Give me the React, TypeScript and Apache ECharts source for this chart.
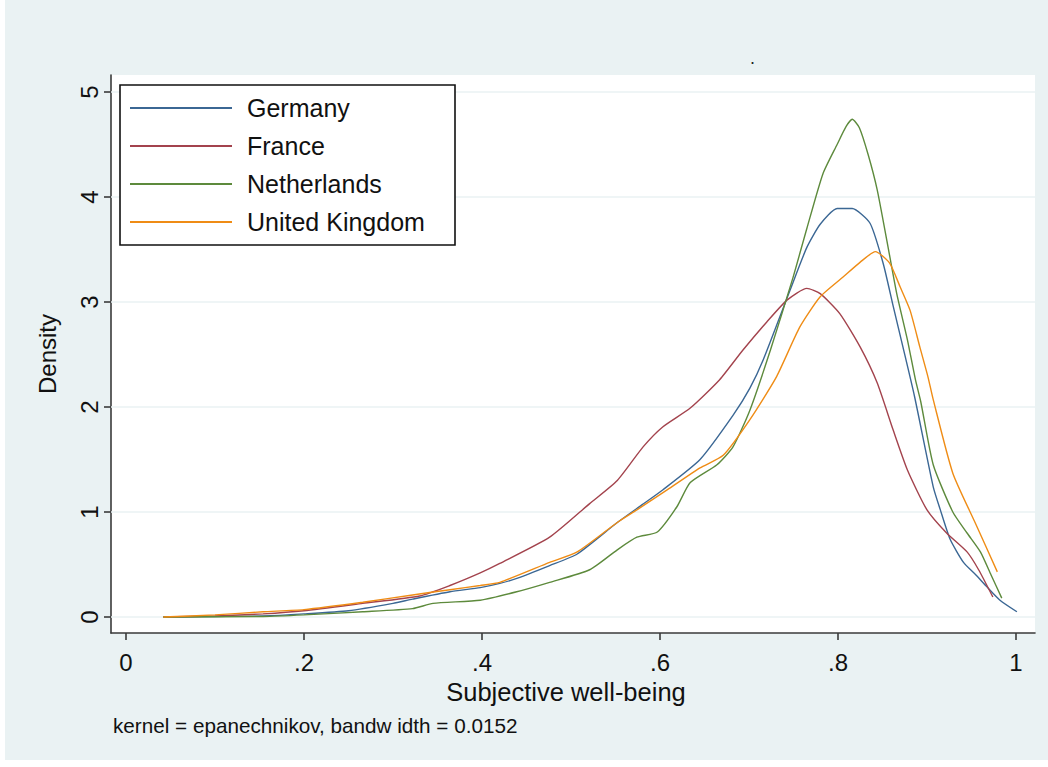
import React, { useEffect, useRef } from "react";
import * as echarts from "echarts";

// Kernel density estimates of subjective well-being, by country: [score, density]
const germany: [number, number][] = [
  [0.042, 0.0], [0.1, 0.005], [0.154, 0.01], [0.2, 0.03], [0.25, 0.06], [0.3, 0.13],
  [0.322, 0.17], [0.364, 0.24], [0.398, 0.28], [0.42, 0.32], [0.44, 0.37], [0.476, 0.49],
  [0.507, 0.6], [0.552, 0.9], [0.58, 1.07], [0.603, 1.21], [0.645, 1.5], [0.682, 1.92],
  [0.701, 2.18], [0.716, 2.45], [0.746, 3.11], [0.765, 3.52], [0.78, 3.74], [0.799, 3.89],
  [0.816, 3.89], [0.836, 3.75], [0.851, 3.36], [0.862, 2.96], [0.873, 2.57], [0.886, 2.1],
  [0.907, 1.24], [0.915, 1.02], [0.926, 0.74], [0.941, 0.52], [0.955, 0.4], [0.967, 0.29],
  [0.982, 0.16], [1.001, 0.05],
];

const france: [number, number][] = [
  [0.042, 0.0], [0.1, 0.01], [0.154, 0.03], [0.2, 0.06], [0.266, 0.13], [0.33, 0.2],
  [0.364, 0.3], [0.398, 0.42], [0.42, 0.51], [0.476, 0.76], [0.521, 1.08], [0.552, 1.3],
  [0.581, 1.62], [0.603, 1.81], [0.634, 1.99], [0.667, 2.26], [0.693, 2.54], [0.72, 2.81],
  [0.743, 3.02], [0.765, 3.13], [0.78, 3.08], [0.802, 2.89], [0.825, 2.57], [0.844, 2.23],
  [0.862, 1.78], [0.878, 1.4], [0.9, 1.02], [0.922, 0.8], [0.945, 0.62], [0.958, 0.45],
  [0.974, 0.19],
];

const netherlands: [number, number][] = [
  [0.042, 0.0], [0.154, 0.005], [0.2, 0.02], [0.266, 0.05], [0.322, 0.08], [0.345, 0.13],
  [0.398, 0.16], [0.439, 0.24], [0.476, 0.33], [0.521, 0.45], [0.552, 0.64], [0.574, 0.76],
  [0.597, 0.81], [0.619, 1.05], [0.634, 1.28], [0.664, 1.45], [0.682, 1.62], [0.701, 1.97],
  [0.724, 2.54], [0.749, 3.22], [0.765, 3.7], [0.783, 4.22], [0.799, 4.5], [0.809, 4.67],
  [0.816, 4.74], [0.824, 4.66], [0.834, 4.4], [0.844, 4.07], [0.855, 3.58], [0.866, 3.08],
  [0.878, 2.64], [0.887, 2.26], [0.893, 2.05], [0.907, 1.45], [0.929, 1.0], [0.945, 0.8],
  [0.96, 0.62], [0.972, 0.4], [0.984, 0.18],
];

const unitedKingdom: [number, number][] = [
  [0.042, 0.0], [0.1, 0.02], [0.154, 0.05], [0.2, 0.07], [0.266, 0.14], [0.322, 0.21],
  [0.364, 0.26], [0.398, 0.3], [0.42, 0.33], [0.476, 0.52], [0.507, 0.62], [0.552, 0.9],
  [0.574, 1.02], [0.608, 1.21], [0.645, 1.42], [0.671, 1.54], [0.701, 1.88], [0.731, 2.29],
  [0.757, 2.76], [0.78, 3.05], [0.806, 3.24], [0.825, 3.38], [0.842, 3.48], [0.858, 3.37],
  [0.87, 3.14], [0.881, 2.92], [0.892, 2.57], [0.901, 2.29], [0.907, 2.07], [0.929, 1.37],
  [0.954, 0.9], [0.979, 0.43],
];

const countries = ["Germany", "France", "Netherlands", "United Kingdom"];
const seriesData = [germany, france, netherlands, unitedKingdom];
const colors = ["#3b6794", "#a3434d", "#5d8a3c", "#ef8c15"];

const xTicks = [0, 0.2, 0.4, 0.6, 0.8, 1];
const yTicks = [0, 1, 2, 3, 4, 5];

const noteText = "kernel = epanechnikov, bandw idth = 0.0152";

const FONT = "'Liberation Sans', Arial, sans-serif";
const AXIS_COLOR = "#3a3a3a";
const GRID_COLOR = "#eaf2f3";

function formatX(v: number): string {
  if (v === 0) return "0";
  if (v === 1) return "1";
  return String(v).replace(/^0\./, ".");
}

export default function App() {
  const ref = useRef<HTMLDivElement>(null);

  useEffect(() => {
    if (!ref.current) return;
    const chart = echarts.init(ref.current, null, { renderer: "svg" });

    const series: any[] = countries.map((name, i) => ({
      name,
      type: "line",
      data: seriesData[i],
      symbol: "none",
      smooth: 0.2,
      lineStyle: { color: colors[i], width: 1.4 },
      itemStyle: { color: colors[i] },
      z: 3 + i,
    }));

    // horizontal reference lines at each density tick, kept beneath the curves
    series.push({
      name: "grid",
      type: "line",
      data: [],
      silent: true,
      z: 1,
      markLine: {
        silent: true,
        z: 1,
        symbol: "none",
        label: { show: false },
        lineStyle: { color: GRID_COLOR, width: 1.6, type: "solid" },
        data: yTicks.map((y) => ({ yAxis: y })),
      },
    });

    chart.setOption({
      animation: false,
      backgroundColor: "#eaf2f3",
      textStyle: { fontFamily: FONT },
      title: {
        text: ".",
        left: 740,
        top: 44,
        textStyle: { fontSize: 18, color: "#222", fontWeight: "normal", fontFamily: FONT },
      },
      grid: {
        left: 106,
        right: 13,
        top: 75,
        bottom: 127,
        show: true,
        backgroundColor: "#ffffff",
        borderWidth: 0,
      },
      legend: {
        data: countries,
        orient: "vertical",
        left: 125,
        top: 94,
        padding: 0,
        icon: "rect",
        itemWidth: 102,
        itemHeight: 2,
        itemGap: 10,
        selectedMode: false,
        textStyle: {
          fontSize: 25,
          lineHeight: 28,
          color: "#111",
          fontFamily: FONT,
          padding: [0, 0, 0, 10],
        },
        z: 20,
      },
      xAxis: {
        type: "value",
        min: -15 / 890,
        max: 1 + 19 / 890,
        name: "Subjective well-being",
        nameLocation: "middle",
        nameGap: 44,
        nameTextStyle: {
          fontSize: 25.5,
          color: "#111",
          fontFamily: FONT,
          padding: [0, 14, 0, 0],
        },
        axisLine: { show: true, onZero: false, lineStyle: { color: AXIS_COLOR, width: 1.6 } },
        axisTick: {
          show: true,
          length: 7,
          customValues: xTicks,
          lineStyle: { color: AXIS_COLOR, width: 1.6 },
        },
        axisLabel: {
          customValues: xTicks,
          formatter: formatX,
          fontSize: 24,
          color: "#111",
          margin: 17,
          fontFamily: FONT,
        },
        splitLine: { show: false },
      },
      yAxis: {
        type: "value",
        min: -16 / 105,
        max: 5 + 17 / 105,
        name: "Density",
        nameLocation: "middle",
        nameGap: 52,
        nameRotate: 90,
        nameTextStyle: { fontSize: 24, color: "#111", fontFamily: FONT },
        axisLine: { show: true, onZero: false, lineStyle: { color: AXIS_COLOR, width: 1.6 } },
        axisTick: {
          show: true,
          length: 7,
          customValues: yTicks,
          lineStyle: { color: AXIS_COLOR, width: 1.6 },
        },
        axisLabel: {
          customValues: yTicks,
          rotate: 90,
          fontSize: 24,
          color: "#111",
          margin: 10,
          fontFamily: FONT,
        },
        splitLine: { show: false },
      },
      graphic: [
        {
          type: "rect",
          shape: { x: 115, y: 85, width: 335, height: 160 },
          style: { fill: "#ffffff", stroke: "#111", lineWidth: 1.6 },
          z: 15,
          silent: true,
        },
        {
          type: "text",
          x: 108,
          y: 725,
          style: {
            text: noteText,
            fontSize: 20.7,
            fill: "#111",
            fontFamily: FONT,
            textVerticalAlign: "middle",
          },
        },
      ],
      series,
    });

    return () => chart.dispose();
  }, []);

  return (
    <div
      ref={ref}
      style={{ position: "absolute", left: 5, top: 0, width: 1043, height: 760 }}
    />
  );
}
